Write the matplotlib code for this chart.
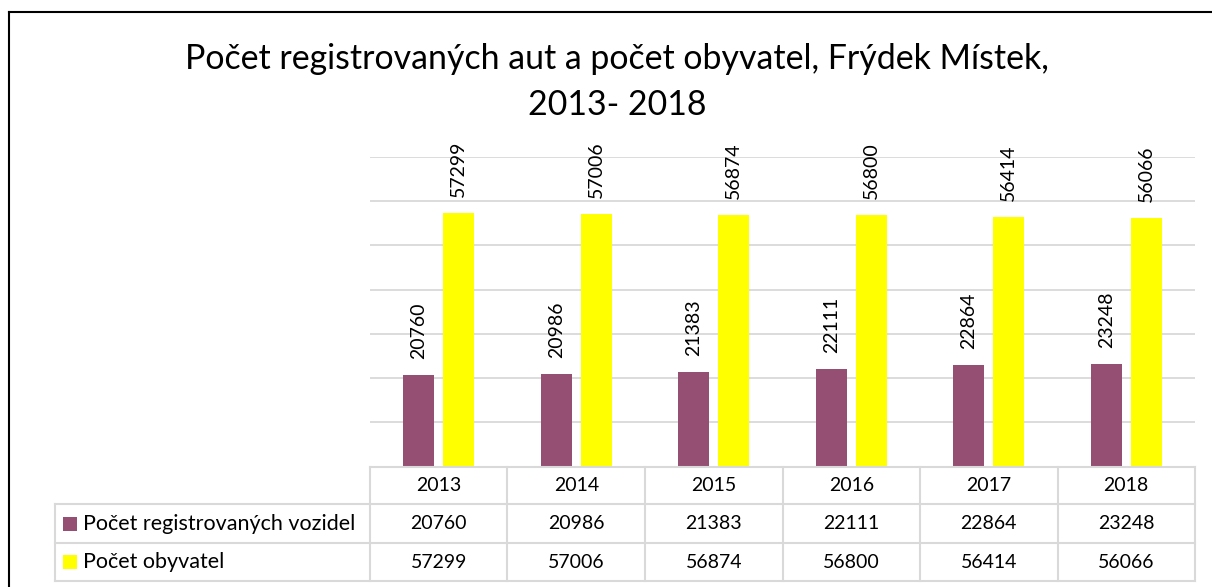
import matplotlib
matplotlib.use("Agg")
import matplotlib.pyplot as plt
from matplotlib.transforms import blended_transform_factory
from matplotlib.patches import Rectangle
from matplotlib.lines import Line2D

plt.rcParams['font.family'] = ['Lato', 'DejaVu Sans']

years = ["2013", "2014", "2015", "2016", "2017", "2018"]
vozidla = [20760, 20986, 21383, 22111, 22864, 23248]
obyvatele = [57299, 57006, 56874, 56800, 56414, 56066]
series_names = ["Počet registrovaných vozidel", "Počet obyvatel"]
colors = ["#954F72", "#FFFF00"]
title_lines = ["Počet registrovaných aut a počet obyvatel, Frýdek Místek,", "2013- 2018"]

W, H = 1212, 587
fig = plt.figure(figsize=(W / 100, H / 100), dpi=100)

def fy(py):
    return 1 - py / H

ax_left, ax_right = 370 / W, 1195 / W
ax_bottom, ax_top = fy(466.7), fy(156.7)
ax = fig.add_axes([ax_left, ax_bottom, ax_right - ax_left, ax_top - ax_bottom])

x = list(range(len(years)))
bw = 0.225
off = 0.145
b1 = ax.bar([i - off for i in x], vozidla, width=bw, color=colors[0], zorder=3)
b2 = ax.bar([i + off for i in x], obyvatele, width=bw, color=colors[1], zorder=3)

for bars, vals in ((b1, vozidla), (b2, obyvatele)):
    for r, v in zip(bars, vals):
        ax.annotate(str(v), (r.get_x() + r.get_width() / 2, r.get_height()),
                    xytext=(0, 11.5), textcoords="offset points",
                    rotation=90, ha="center", va="bottom", fontsize=14,
                    color="black", annotation_clip=False)

ax.set_xlim(-0.5, len(years) - 0.5)
ax.set_ylim(0, 70000)
ax.set_yticks(range(0, 70001, 10000))
ax.yaxis.grid(True, color="#d9d9d9", lw=1.3, zorder=0)
ax.set_axisbelow(True)
ax.tick_params(left=False, bottom=False, labelleft=False, labelbottom=False)
for s in ax.spines.values():
    s.set_visible(False)

# Data table
tr = blended_transform_factory(ax.transData, fig.transFigure)
grid_c = "#d9d9d9"
row_y = [fy(466.7), fy(504), fy(543), fy(581)]
left_col = -0.5 - (370 - 55) / 137.5
n = len(years)
lw = 1.5
for k, yy in enumerate(row_y):
    x0 = -0.5 if k == 0 else left_col
    fig.add_artist(Line2D([x0, n - 0.5], [yy, yy], transform=tr, color=grid_c, lw=lw, clip_on=False))
for i in range(n + 1):
    fig.add_artist(Line2D([i - 0.5, i - 0.5], [row_y[0], row_y[3]], transform=tr, color=grid_c, lw=lw, clip_on=False))
fig.add_artist(Line2D([left_col, left_col], [row_y[1], row_y[3]], transform=tr, color=grid_c, lw=lw, clip_on=False))

for i, yr in enumerate(years):
    fig.text(i, (row_y[0] + row_y[1]) / 2, yr, transform=tr, ha="center", va="center", fontsize=14)
    fig.text(i, (row_y[1] + row_y[2]) / 2, str(vozidla[i]), transform=tr, ha="center", va="center", fontsize=14)
    fig.text(i, (row_y[2] + row_y[3]) / 2, str(obyvatele[i]), transform=tr, ha="center", va="center", fontsize=14)

for k, (name, c) in enumerate(zip(series_names, colors)):
    yc = (row_y[k + 1] + row_y[k + 2]) / 2
    sq = 14
    fig.add_artist(Rectangle((62.7 / W, yc - sq / 2 / H), sq / W, sq / H,
                             transform=fig.transFigure, color=c, lw=0))
    fig.text(82.7 / W, yc, name, ha="left", va="center", fontsize=15.5)

tcx = 617 / W
fig.text(tcx, fy(69), title_lines[0], ha="center", va="baseline", fontsize=24.4)
fig.text(tcx, fy(115), title_lines[1], ha="center", va="baseline", fontsize=24.4)

# outer frame (left and top visible)
fig.add_artist(Line2D([9.3 / W, 9.3 / W], [fy(12.3), 0], transform=fig.transFigure, color="black", lw=1.5))
fig.add_artist(Line2D([9.3 / W, 1], [fy(12.3), fy(12.3)], transform=fig.transFigure, color="black", lw=1.5))

fig.savefig("out.png", dpi=100, facecolor="white")
